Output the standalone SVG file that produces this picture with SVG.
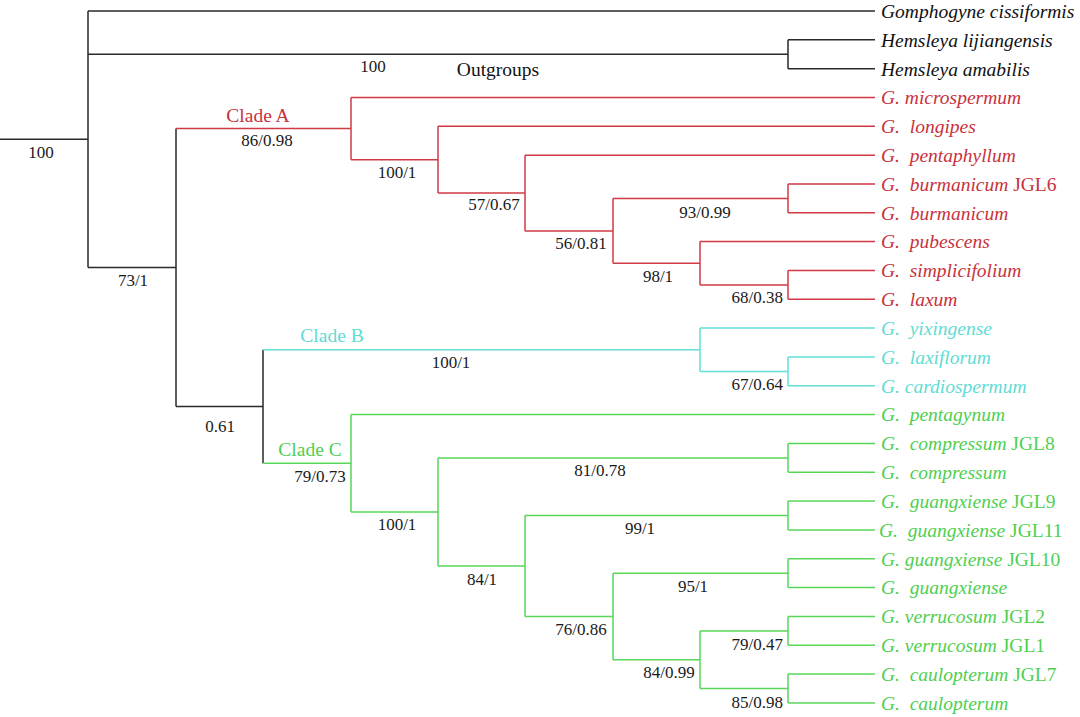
<svg xmlns="http://www.w3.org/2000/svg" width="1080" height="717" viewBox="0 0 1080 717">
<style>
text{font-family:"Liberation Serif","Times New Roman",serif;}
.leaf{font-size:19.5px;font-style:italic;white-space:pre;}
.leaf tspan.n{font-style:normal;}
.sup{font-size:17px;fill:#1a1a1a;text-anchor:middle;}
.supe{font-size:17px;fill:#1a1a1a;text-anchor:end;}
.clade{font-size:19.5px;text-anchor:middle;}
.k{stroke:#2a2a2a;}
.r{stroke:#d03a44;}
.c{stroke:#62e0d8;}
.g{stroke:#58d658;}
.tk{fill:#111;}
.tr{fill:#c8323c;}
.tc{fill:#5fdcd3;}
.tg{fill:#4fcf4f;}
path{fill:none;stroke-width:1.5;}
</style>
<rect width="1080" height="717" fill="#fff"/>
<g id="connectors">
<path class="k" d="M0 139.3H88M88 11V267.6M88 11H875M88 54.3H788M788 39.8V68.7M788 39.8H875M788 68.7H875M88 267.6H176M176 128.6V406.5M176 406.5H263M263 349.8V463.3"/>
<path class="r" d="M176 128.6H351M351 97.5V159.7M351 97.5H875M351 159.7H438M438 126.3V193M438 126.3H875M438 193H525M525 155.2V230.9M525 155.2H875M525 230.9H613M613 198.4V263.3M613 198.4H788M788 184V212.8M788 184H875M788 212.8H875M613 263.3H700M700 241.6V284.9M700 241.6H875M700 284.9H788M788 270.5V299.3M788 270.5H875M788 299.3H875"/>
<path class="c" d="M263 349.8H700M700 328.1V371.4M700 328.1H875M700 371.4H788M788 357V385.8M788 357H875M788 385.8H875"/>
<path class="g" d="M263 463.3H351M351 414.6V512M351 414.6H875M351 512H438M438 457.9V566M438 457.9H788M788 443.5V472.3M788 443.5H875M788 472.3H875M438 566H525M525 515.5V616.5M525 515.5H788M788 501.1V530M788 501.1H875M788 530H875M525 616.5H613M613 573.2V659.7M613 573.2H788M788 558.8V587.6M788 558.8H875M788 587.6H875M613 659.7H700M700 630.9V688.6M700 630.9H788M788 616.4V645.3M788 616.4H875M788 645.3H875M700 688.6H788M788 674.1V703M788 674.1H875M788 703H875"/>
</g>
<g id="leaves">
<g id="leaf-gomphogyne"><text class="leaf tk" x="881" y="17.8">Gomphogyne cissiformis</text></g>
<g id="leaf-hemsleya-lij"><text class="leaf tk" x="881" y="46.6">Hemsleya lijiangensis</text></g>
<g id="leaf-hemsleya-amab"><text class="leaf tk" x="881" y="75.5">Hemsleya amabilis</text></g>
<g id="leaf-microspermum"><text class="leaf tr" x="881" y="104.3">G. microspermum</text></g>
<g id="leaf-longipes"><text class="leaf tr" x="881" y="133.1">G.  longipes</text></g>
<g id="leaf-pentaphyllum"><text class="leaf tr" x="881" y="162">G.  pentaphyllum</text></g>
<g id="leaf-burmanicum-jgl6"><text class="leaf tr" x="881" y="190.8">G.  burmanicum<tspan class="n"> JGL6</tspan></text></g>
<g id="leaf-burmanicum"><text class="leaf tr" x="881" y="219.6">G.  burmanicum</text></g>
<g id="leaf-pubescens"><text class="leaf tr" x="881" y="248.4">G.  pubescens</text></g>
<g id="leaf-simplicifolium"><text class="leaf tr" x="881" y="277.3">G.  simplicifolium</text></g>
<g id="leaf-laxum"><text class="leaf tr" x="881" y="306.1">G.  laxum</text></g>
<g id="leaf-yixingense"><text class="leaf tc" x="881" y="334.9">G.  yixingense</text></g>
<g id="leaf-laxiflorum"><text class="leaf tc" x="881" y="363.8">G.  laxiflorum</text></g>
<g id="leaf-cardiospermum"><text class="leaf tc" x="881" y="392.6">G. cardiospermum</text></g>
<g id="leaf-pentagynum"><text class="leaf tg" x="881" y="421.4">G.  pentagynum</text></g>
<g id="leaf-compressum-jgl8"><text class="leaf tg" x="881" y="450.3">G.  compressum<tspan class="n"> JGL8</tspan></text></g>
<g id="leaf-compressum"><text class="leaf tg" x="881" y="479.1">G.  compressum</text></g>
<g id="leaf-guangxiense-jgl9"><text class="leaf tg" x="881" y="507.9">G.  guangxiense<tspan class="n"> JGL9</tspan></text></g>
<g id="leaf-guangxiense-jgl11"><text class="leaf tg" x="879" y="536.8">G.  guangxiense<tspan class="n"> JGL11</tspan></text></g>
<g id="leaf-guangxiense-jgl10"><text class="leaf tg" x="881" y="565.6">G. guangxiense<tspan class="n"> JGL10</tspan></text></g>
<g id="leaf-guangxiense"><text class="leaf tg" x="881" y="594.4">G.  guangxiense</text></g>
<g id="leaf-verrucosum-jgl2"><text class="leaf tg" x="881" y="623.2">G. verrucosum<tspan class="n"> JGL2</tspan></text></g>
<g id="leaf-verrucosum-jgl1"><text class="leaf tg" x="881" y="652.1">G. verrucosum<tspan class="n"> JGL1</tspan></text></g>
<g id="leaf-caulopterum-jgl7"><text class="leaf tg" x="881" y="680.9">G.  caulopterum<tspan class="n"> JGL7</tspan></text></g>
<g id="leaf-caulopterum"><text class="leaf tg" x="881" y="709.8">G.  caulopterum</text></g>
</g>
<g id="internal-nodes">
<g id="node-root"><text class="sup" x="41" y="158">100</text></g>
<g id="node-outgroup"><text class="sup" x="373" y="72">100</text><text class="clade tk" x="498" y="76">Outgroups</text></g>
<g id="node-ingroup"><text class="sup" x="133" y="286">73/1</text></g>
<g id="node-cladeA"><text class="clade tr" x="258" y="122">Clade A</text><text class="sup" x="267" y="146">86/0.98</text></g>
<g id="node-a2"><text class="sup" x="397" y="178">100/1</text></g>
<g id="node-a3"><text class="sup" x="494" y="210">57/0.67</text></g>
<g id="node-a4"><text class="sup" x="581" y="249">56/0.81</text></g>
<g id="node-a5"><text class="sup" x="705" y="218">93/0.99</text></g>
<g id="node-a6"><text class="sup" x="658" y="282">98/1</text></g>
<g id="node-a7"><text class="supe" x="783" y="303">68/0.38</text></g>
<g id="node-bc"><text class="sup" x="220" y="432">0.61</text></g>
<g id="node-cladeB"><text class="clade tc" x="332" y="342">Clade B</text><text class="sup" x="451" y="368">100/1</text></g>
<g id="node-b2"><text class="supe" x="783" y="390">67/0.64</text></g>
<g id="node-cladeC"><text class="clade tg" x="310" y="456">Clade C</text><text class="sup" x="320" y="482">79/0.73</text></g>
<g id="node-c2"><text class="sup" x="397" y="530">100/1</text></g>
<g id="node-c3"><text class="sup" x="600" y="476">81/0.78</text></g>
<g id="node-c4"><text class="sup" x="482" y="585">84/1</text></g>
<g id="node-c5"><text class="sup" x="640" y="534">99/1</text></g>
<g id="node-c6"><text class="sup" x="581" y="635">76/0.86</text></g>
<g id="node-c7"><text class="sup" x="693" y="592">95/1</text></g>
<g id="node-c8"><text class="sup" x="669" y="678">84/0.99</text></g>
<g id="node-c9"><text class="supe" x="783" y="650">79/0.47</text></g>
<g id="node-c10"><text class="supe" x="783" y="708">85/0.98</text></g>
</g>
</svg>
